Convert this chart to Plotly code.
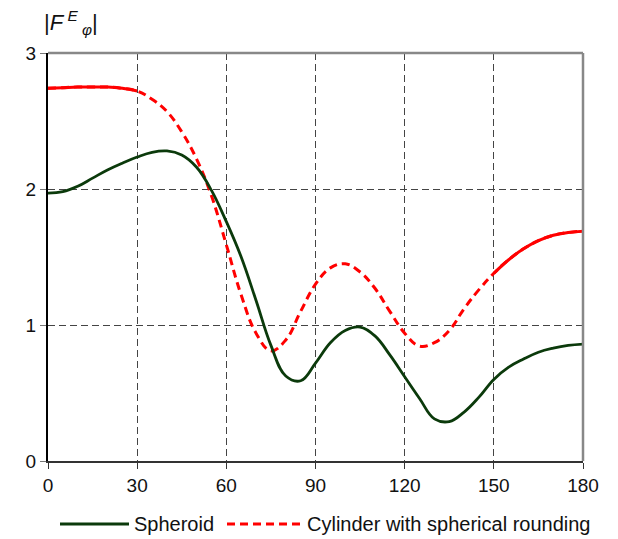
import plotly.graph_objects as go

angle = [0, 5, 10, 15, 20, 25, 30, 35, 40, 45, 50, 55, 60, 65, 70, 75, 80, 85, 90, 95, 100, 105, 110, 115, 120, 125, 130, 135, 140, 145, 150, 155, 160, 165, 170, 175, 180]
spheroid = [1.97, 1.98, 2.02, 2.08, 2.14, 2.19, 2.235, 2.27, 2.28, 2.25, 2.16, 1.99, 1.76, 1.50, 1.18, 0.85, 0.625, 0.59, 0.72, 0.87, 0.96, 0.985, 0.92, 0.78, 0.62, 0.46, 0.31, 0.29, 0.36, 0.47, 0.60, 0.69, 0.75, 0.80, 0.83, 0.85, 0.86]
cylinder = [2.74, 2.745, 2.75, 2.75, 2.75, 2.74, 2.72, 2.66, 2.57, 2.42, 2.22, 1.95, 1.59, 1.22, 0.94, 0.81, 0.89, 1.10, 1.30, 1.42, 1.45, 1.39, 1.27, 1.10, 0.94, 0.845, 0.87, 0.96, 1.12, 1.26, 1.38, 1.48, 1.56, 1.62, 1.66, 1.68, 1.69]

x_ticks = [0, 30, 60, 90, 120, 150, 180]
y_ticks = [0, 1, 2, 3]

GREEN = "#0b3a0b"
RED = "#ff0000"
FONT = "Liberation Sans, Arial, sans-serif"
SM = 1.15

fig = go.Figure()
fig.add_trace(go.Scatter(x=angle, y=cylinder, mode="lines",
                         line=dict(color=RED, width=3, dash="8px,5px", shape="spline", smoothing=SM),
                         showlegend=False))
# near-solid looking stretches of the dashed curve
n1 = angle.index(30) + 1
fig.add_trace(go.Scatter(x=angle[:n1], y=cylinder[:n1], mode="lines",
                         line=dict(color=RED, width=3, shape="spline", smoothing=SM), showlegend=False))
n2 = angle.index(150)
fig.add_trace(go.Scatter(x=angle[n2:], y=cylinder[n2:], mode="lines",
                         line=dict(color=RED, width=3, shape="spline", smoothing=SM), showlegend=False))
fig.add_trace(go.Scatter(x=angle, y=spheroid, mode="lines",
                         line=dict(color=GREEN, width=2.8, shape="spline", smoothing=SM),
                         showlegend=False))

W, H = 618, 539
L, R, T, B = 48, 35, 53, 78
pw, ph = W - L - R, H - T - B

def px(xp):
    return (xp - L) / pw

def py(yp):
    return (H - B - yp) / ph

shapes = [
    dict(type="line", xref="paper", yref="paper", x0=0, x1=1, y0=1, y1=1,
         line=dict(color="#888888", width=2.5)),
    dict(type="line", xref="paper", yref="paper", x0=1, x1=1, y0=0, y1=1,
         line=dict(color="#888888", width=2.5)),
    # legend samples
    dict(type="line", xref="paper", yref="paper", x0=px(60), x1=px(129), y0=py(524), y1=py(524),
         line=dict(color=GREEN, width=2.8)),
    dict(type="line", xref="paper", yref="paper", x0=px(227), x1=px(304), y0=py(524), y1=py(524),
         line=dict(color=RED, width=3, dash="8px,5px")),
]

annotations = [
    dict(xref="paper", yref="paper", x=px(132), y=py(524), xanchor="left", yanchor="middle",
         text="Spheroid", showarrow=False, font=dict(family=FONT, size=20, color="#111")),
    dict(xref="paper", yref="paper", x=px(305), y=py(524), xanchor="left", yanchor="middle",
         text="Cylinder with spherical rounding", showarrow=False,
         font=dict(family=FONT, size=20, color="#111")),
    dict(xref="paper", yref="paper", x=px(42), y=py(22), xanchor="left", yanchor="middle",
         text="|<i>F</i><sup> <i>E</i></sup><sub> <i>φ</i></sub>|", showarrow=False,
         font=dict(family=FONT, size=22, color="#111")),
]

fig.update_layout(
    width=W, height=H,
    margin=dict(l=L, r=R, t=T, b=B, pad=0),
    plot_bgcolor="white", paper_bgcolor="white",
    font=dict(family=FONT, size=19, color="#111"),
    shapes=shapes, annotations=annotations,
    showlegend=False,
)
fig.update_xaxes(range=[0, 180], tickvals=x_ticks, ticktext=[str(v) for v in x_ticks],
                 showgrid=True, gridcolor="#444444", gridwidth=1, griddash="7px,4px",
                 showline=True, linecolor="#333333", linewidth=2,
                 ticks="outside", ticklen=6, tickcolor="#333333", tickwidth=1,
                 zeroline=False, tickfont=dict(size=19))
fig.update_yaxes(range=[0, 3], tickvals=y_ticks, ticktext=[str(v) for v in y_ticks],
                 showgrid=True, gridcolor="#444444", gridwidth=1, griddash="7px,4px",
                 showline=True, linecolor="#000000", linewidth=2,
                 ticks="outside", ticklen=6, tickcolor="#777777", tickwidth=1,
                 zeroline=False, tickfont=dict(size=19))

fig.write_html("out.html")
